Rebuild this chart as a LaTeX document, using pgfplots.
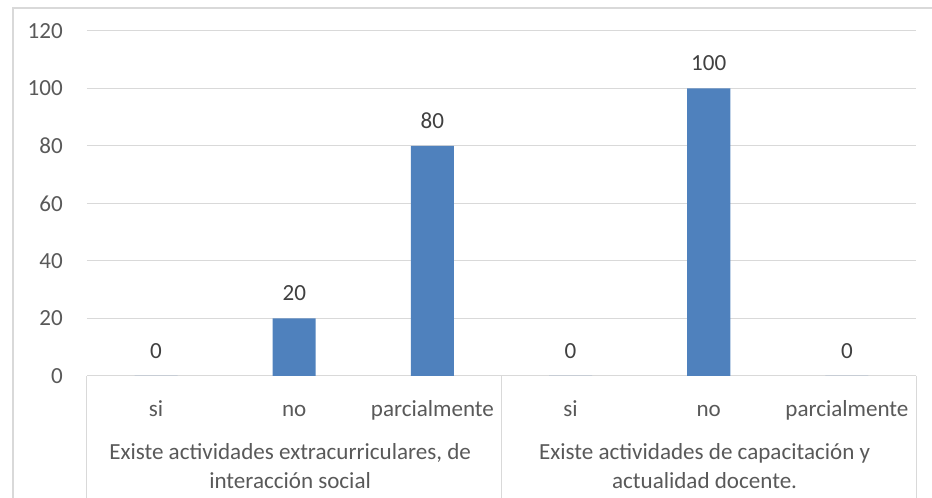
\documentclass[border=0pt]{standalone}
\usepackage{fontspec}
\setmainfont{Carlito}
\usepackage{pgfplots}
\pgfplotsset{compat=1.18}
\definecolor{barblue}{HTML}{4F81BD}
\definecolor{gridgray}{HTML}{D9D9D9}
\definecolor{labelgray}{HTML}{595959}
\definecolor{valgray}{HTML}{404040}

\begin{document}
\begin{tikzpicture}
\useasboundingbox (-65.25pt,-91.5pt) rectangle (633.75pt,282pt);
% chart frame
\draw[gridgray, line width=0.8pt] (-55.5pt,-100pt) -- (-55.5pt,276pt) -- (640pt,276pt);
\begin{axis}[
    scale only axis,
    width=621.75pt, height=258.75pt,
    xmin=-0.5, xmax=5.5,
    ymin=0, ymax=120,
    ytick={0,20,...,120},
    xtick={0,...,5},
    xticklabels={si,no,parcialmente,si,no,parcialmente},
    major tick length=0pt,
    axis line style={draw=none},
    ymajorgrids=true,
    grid style={gridgray, line width=0.75pt},
    font=\fontsize{17.3}{21}\selectfont,
    /pgf/number format/assume math mode=true,
    ticklabel style={labelgray, inner sep=0pt},
    yticklabel style={anchor=east, xshift=-18pt},
    xticklabel style={anchor=base, yshift=-30.75pt},
    ybar, bar width=32.25pt,
    nodes near coords,
    every node near coord/.append style={valgray, inner sep=0pt, anchor=south, yshift=13pt},
    clip=false,
]
\addplot[fill=barblue, draw=none] coordinates {
    (0,0) (1,20) (2,80) (3,0) (4,100) (5,0)
};
% category axis separators
\draw[gridgray, line width=0.75pt] (axis cs:-0.5,0) -- ([yshift=-100pt]axis cs:-0.5,0);
\draw[gridgray, line width=0.75pt] (axis cs:2.5,0) -- ([yshift=-100pt]axis cs:2.5,0);
\draw[gridgray, line width=0.75pt] (axis cs:5.5,0) -- ([yshift=-100pt]axis cs:5.5,0);
% group labels
\node[labelgray, anchor=base, inner sep=0pt, yshift=-63pt] at (axis cs:0.97,0) {Existe actividades extracurriculares, de};
\node[labelgray, anchor=base, inner sep=0pt, yshift=-84.75pt] at (axis cs:0.97,0) {interacción social};
\node[labelgray, anchor=base, inner sep=0pt, yshift=-63pt] at (axis cs:3.97,0) {Existe actividades de capacitación y};
\node[labelgray, anchor=base, inner sep=0pt, yshift=-84.75pt] at (axis cs:3.97,0) {actualidad docente.};
\end{axis}
\end{tikzpicture}
\end{document}
